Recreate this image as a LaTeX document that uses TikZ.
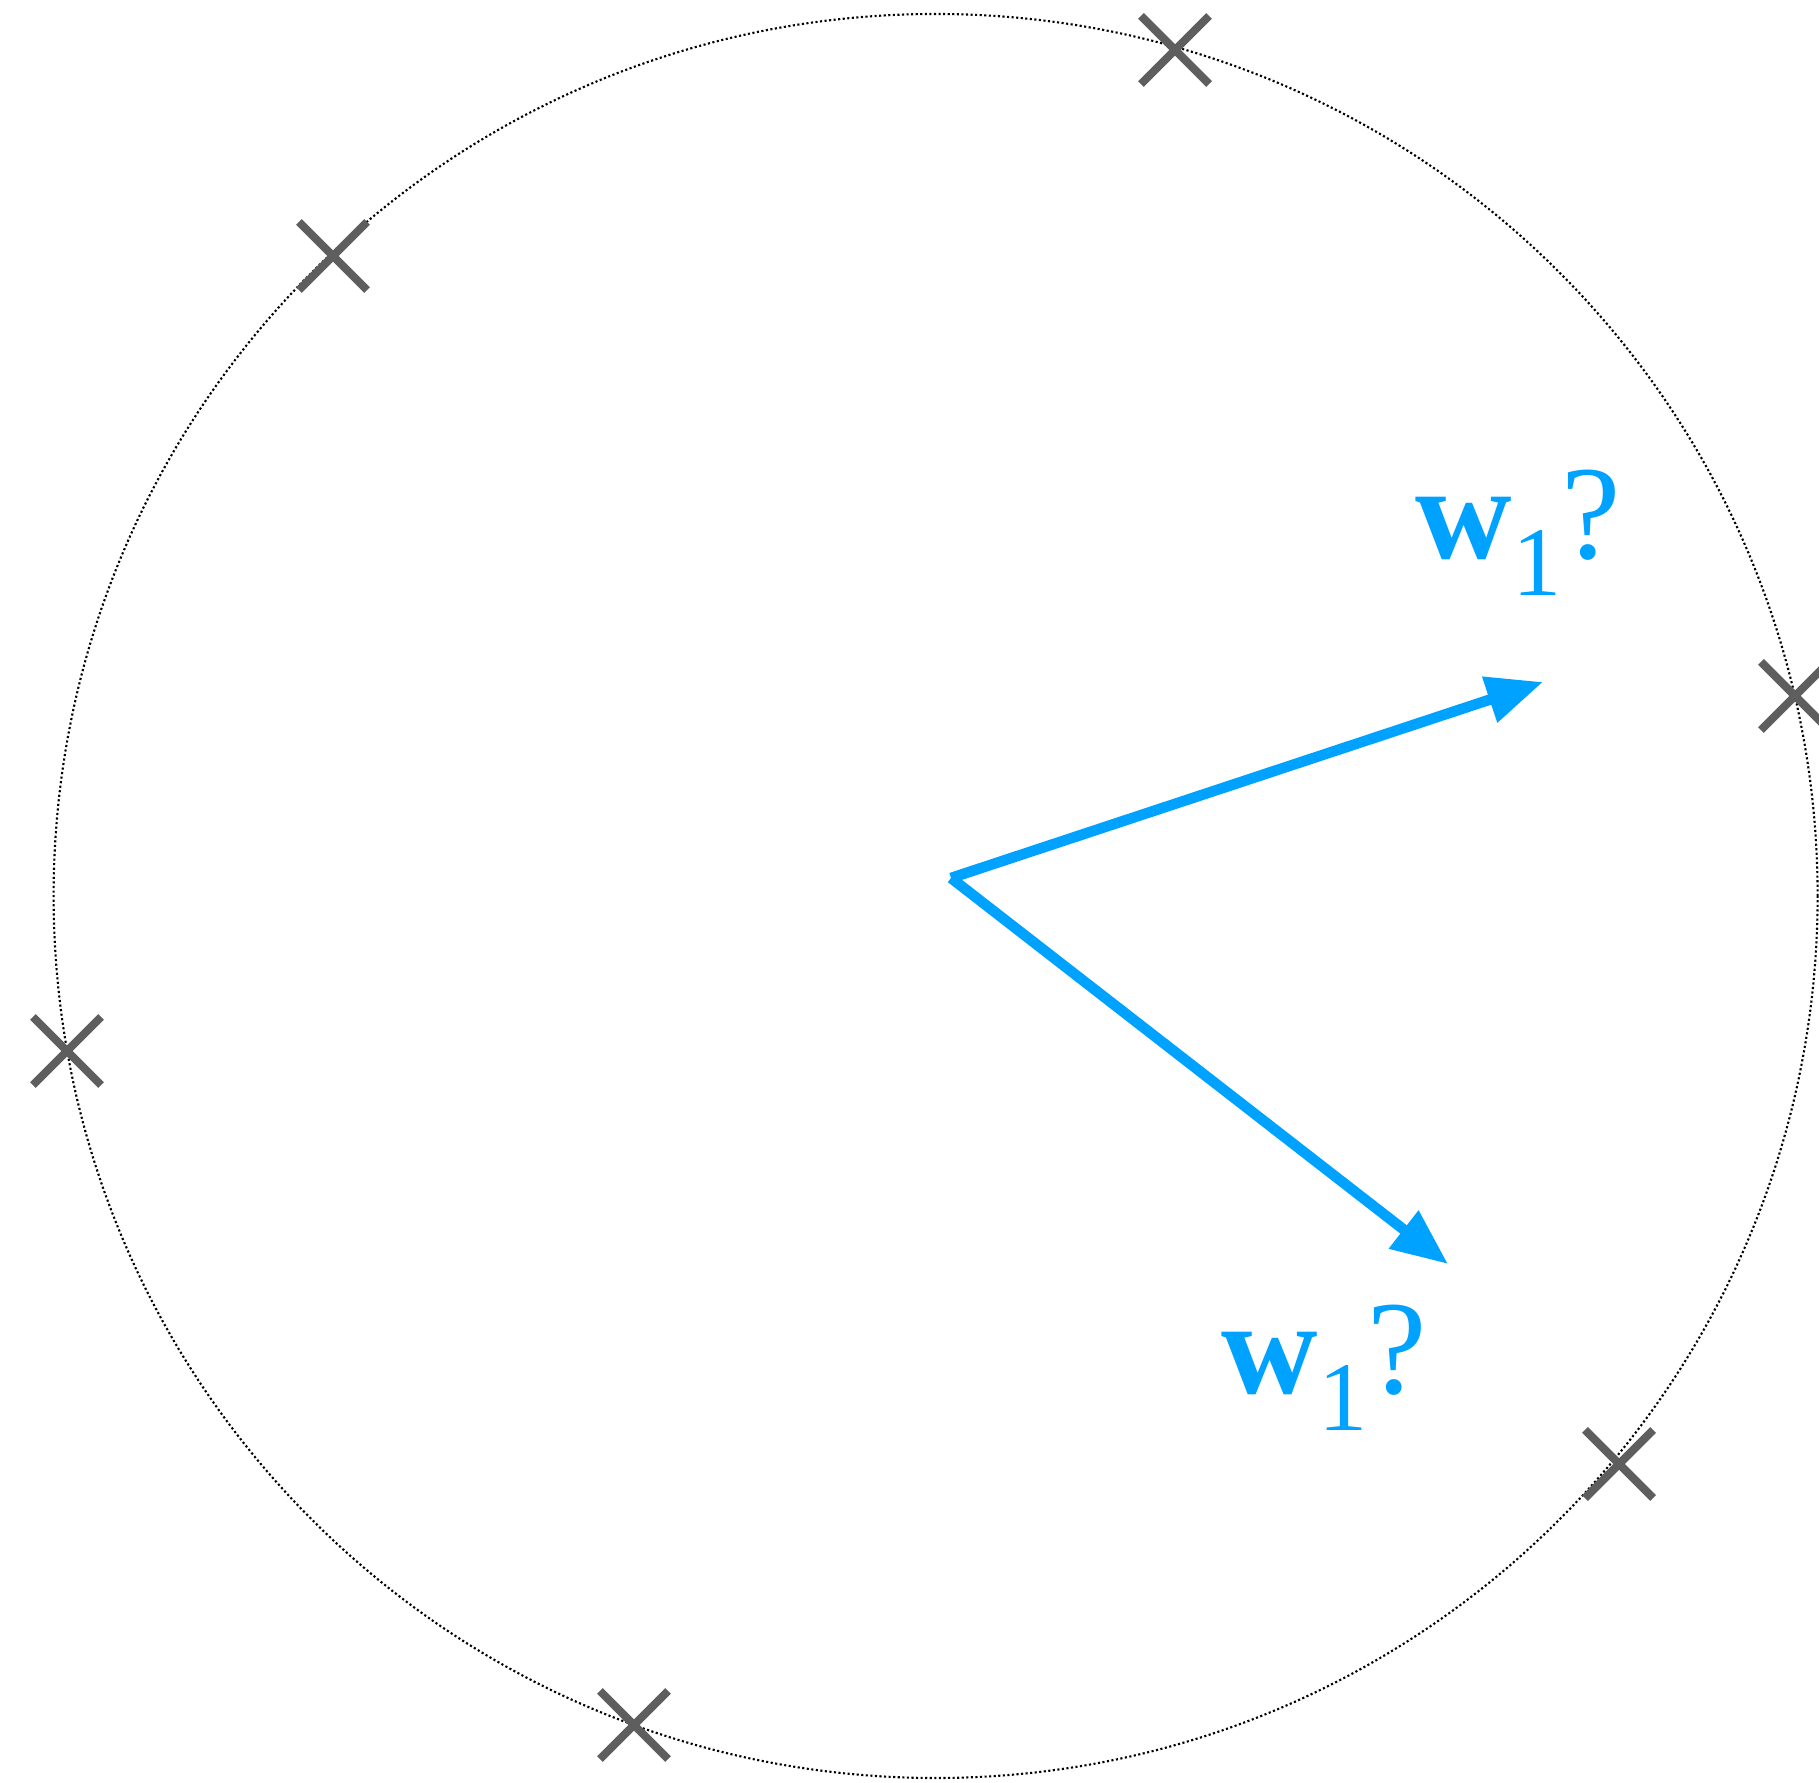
\documentclass[tikz,border=0pt]{standalone}
\usepackage{fontspec}
\setmainfont{Liberation Serif}
\newfontfamily\wfont{Liberation Serif}
\usetikzlibrary{arrows.meta,shapes.misc}
\definecolor{wblue}{RGB}{0,162,255}
\definecolor{xgray}{RGB}{94,94,94}

\begin{document}
\begin{tikzpicture}[x=0.01cm, y=0.01cm]
  \tikzset{
    xmark/.style={draw=xgray, cross out, line width=2.3pt, minimum size=0.6cm, inner sep=0pt},
    wvec/.style={draw=wblue, line width=3pt, -{Triangle[length=16pt, width=13pt]}},
    wlabel/.style={text=wblue, anchor=base, inner sep=0pt, font=\wfont\fontsize{38}{40}\selectfont}
  }
  \useasboundingbox (0,0) rectangle (1819,1782);

  % unit circle (dotted)
  \draw[line width=0.6pt, dash pattern=on 0.6pt off 0.7pt] (935.6,886) circle (882);

  % data points on the circle
  \node[xmark] (x1) at (1175,1732) {};
  \node[xmark] (x2) at (333,1526)  {};
  \node[xmark] (x3) at (1795,1086) {};
  \node[xmark] (x4) at (67,731)    {};
  \node[xmark] (x5) at (1619,318)  {};
  \node[xmark] (x6) at (634,57)    {};

  % candidate directions
  \coordinate (o)  at (951,904);
  \coordinate (wa) at (1543,1100);
  \coordinate (wb) at (1448,518);
  \draw[wvec] (o) -- (wa);
  \draw[wvec] (o) -- (wb);

  \node[wlabel] (la) at (1518,1223) {\textbf{w}\raisebox{-0.27em}{\fontsize{28}{30}\selectfont 1}?};
  \node[wlabel] (lb) at (1324,388)  {\textbf{w}\raisebox{-0.27em}{\fontsize{28}{30}\selectfont 1}?};
\end{tikzpicture}
\end{document}
